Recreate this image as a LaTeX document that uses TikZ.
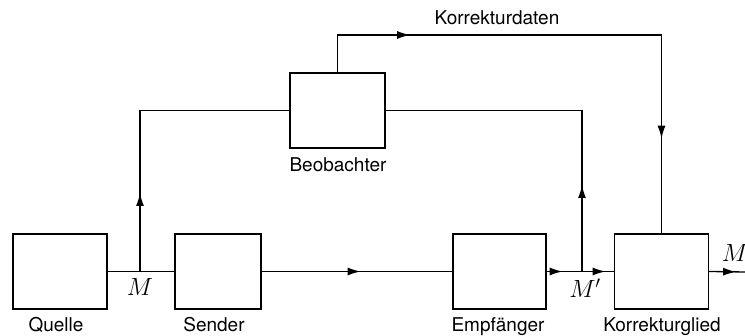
\documentclass[tikz,border=0pt]{standalone}
\usepackage{fontspec}
\setmainfont{TeX Gyre Heros}
\usetikzlibrary{arrows.meta,decorations.markings}

\begin{document}
\begin{tikzpicture}[x=1pt,y=-1pt,
% common options for the boxes:
block/.style = {draw, line width=1.3pt, minimum width=94pt, minimum height=75pt, inner sep=0},
% common options for the texts:
tag/.style = {anchor=base, inner sep=0, font=\fontsize{19}{21}\selectfont},
sig/.style = {tag, font=\fontsize{24}{26}\selectfont},
wire/.style = {line width=1.3pt},
% arrow tip somewhere along a line:
midarrow/.style = {postaction={decorate, decoration={markings,
            mark=at position #1 with {\arrow{Latex[length=13pt,width=8pt]}}}}}]
\useasboundingbox (0,0) rectangle (745,336);
\node[block] (quelle) at (60,271.5) {};
\node[block, minimum width=86pt] (sender) at (218,271.5) {};
\node[block, minimum width=93pt] (empf) at (499.5,271.5) {};
\node[block] (korr) at (661.5,271.5) {};
\node[block, minimum width=95pt] (beob) at (337.5,110.5) {};
\node[tag] (lquelle) at (56,332) {Quelle};
\node[tag] (lsender) at (214,332) {Sender};
\node[tag] (lempf) at (498,332) {Empfänger};
\node[tag] (lkorr) at (662,332) {Korrekturglied};
\node[tag] (lbeob) at (338,172) {Beobachter};
\node[tag] (ldaten) at (497,25) {Korrekturdaten};
\node[sig] (lm) at (140,296) {$M$};
\node[sig] (lmp) at (585,298) {$M'$};
\node[sig] (lmout) at (735,262) {$M$};
\coordinate (jm) at (140,272);
\coordinate (jmp) at (582,272);
\coordinate (out) at (746,272);
\coordinate (top) at (0,35);
\draw[wire] (quelle.east) -- (sender.west);
\draw[wire, midarrow=99pt] (sender.east) -- (empf.west);
\draw[wire, midarrow=16pt, midarrow=59pt] (empf.east) -- (korr.west);
\draw[wire, midarrow=27pt] (korr.east) -- (out);
\draw[wire, midarrow=79pt] (jm) |- (beob.west);
\draw[wire, midarrow=87pt] (jmp) |- (beob.east);
\draw[wire, midarrow=110pt, midarrow=465pt] (beob.north) -- (beob.north |- top)
    -- (korr.north |- top) -- (korr.north);
\end{tikzpicture}
\end{document}
